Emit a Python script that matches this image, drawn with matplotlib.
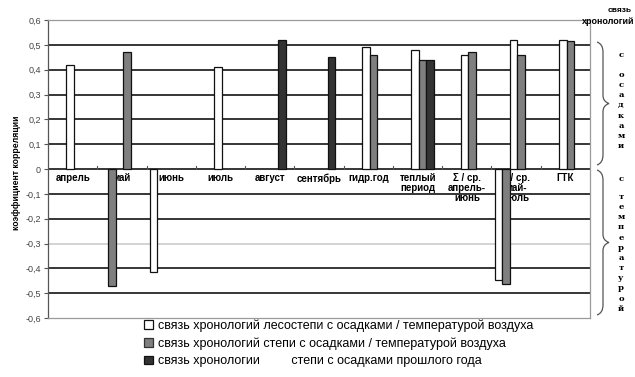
import numpy as np
import matplotlib
matplotlib.use("Agg")
import matplotlib.pyplot as plt
from matplotlib.patches import Patch, PathPatch
from matplotlib.path import Path

plt.rcParams['font.family'] = ['Liberation Sans', 'DejaVu Sans']

categories = ["апрель", "май", "июнь", "июль", "август", "сентябрь", "гидр.год",
              "теплый\nпериод", "Σ / ср.\nапрель-\nиюнь", "Σ / ср.\nмай-\nиюль", "ГТК"]
nan = np.nan
# temperature correlations (negative bars)
temp_forest = [nan, nan, -0.415, nan, nan, nan, nan, nan, nan, -0.445, nan]
temp_steppe = [nan, -0.47, nan, nan, nan, nan, nan, nan, nan, -0.465, nan]
# precipitation correlations
prec_forest = [0.42, nan, nan, 0.41, nan, nan, 0.49, 0.48, 0.46, 0.52, 0.52]
prec_steppe = [nan, 0.47, nan, nan, nan, nan, 0.46, 0.44, 0.47, 0.46, 0.515]
prec_prev   = [nan, nan, nan, nan, 0.52, 0.45, nan, 0.44, nan, nan, nan]

yticks = [0.6, 0.5, 0.4, 0.3, 0.2, 0.1, 0, -0.1, -0.2, -0.3, -0.4, -0.5, -0.6]
ytick_labels = ["0,6", "0,5", "0,4", "0,3", "0,2", "0,1", "0", "-0,1", "-0,2", "-0,3", "-0,4", "-0,5", "-0,6"]
legend_labels = ["связь хронологий лесостепи с осадками / температурой воздуха",
                 "связь хронологий степи с осадками / температурой воздуха",
                 "связь хронологии         степи с осадками прошлого года"]

W, H = 635, 377
fig = plt.figure(figsize=(W / 100, H / 100), dpi=100)
ax = fig.add_axes([48 / W, 1 - 318 / H, (590 - 48) / W, (318 - 20) / H])

x = np.arange(len(categories))
w = 0.152
white, grey, dark = "#ffffff", "#7f7f7f", "#333333"
series = [(temp_forest, white), (temp_steppe, grey), (prec_forest, white),
          (prec_steppe, grey), (prec_prev, dark)]
for i, (vals, col) in enumerate(series):
    off = (i - 2) * w - 0.05
    ax.bar(x + off, vals, width=w, color=col, edgecolor="#111111", linewidth=0.9, zorder=3)

ax.set_xlim(-0.5, len(categories) - 0.5)
ax.set_ylim(-0.6, 0.6)
for v in yticks:
    if abs(abs(v) - 0.6) < 1e-9:
        continue
    col = "#c8c8c8" if abs(v + 0.3) < 1e-9 else "#000000"
    ax.axhline(v, color=col, linewidth=1.1, zorder=1)

ax.set_yticks(yticks)
ax.set_yticklabels(ytick_labels, fontsize=6.5, color="#444444")
ax.tick_params(axis='y', length=3, width=0.8, color="#555555", pad=2)
ax.set_xticks(np.arange(len(categories) + 1) - 0.5)
ax.set_xticklabels([])
ax.tick_params(axis='x', length=0)
for s in ["top", "right", "bottom"]:
    ax.spines[s].set_color("#9a9a9a")
    ax.spines[s].set_linewidth(0.9)
ax.spines["left"].set_color("#555555")
ax.spines["left"].set_linewidth(0.9)

# small tick marks on zero line between categories
for b in np.arange(1, len(categories)):
    ax.plot([b - 0.5, b - 0.5], [0, 0.012], color="#555555", lw=0.8, zorder=1.5)

for xi, lab in zip(x, categories):
    ax.text(xi, -0.018, lab, ha="center", va="top", fontsize=7, fontweight="bold",
            linespacing=1.0, zorder=2)

fig.text(17 / W, 1 - 173 / H, "коэффициент корреляции", rotation=90, ha="center",
         va="center", fontsize=6.2, fontweight="bold")

fig.text(632 / W, 1 - 10 / H, "связь", ha="right", va="center", fontsize=6, fontweight="bold")
fig.text(634 / W, 1 - 22 / H, "хронологий", ha="right", va="center", fontsize=6.5, fontweight="bold")

def vtext(word, y_first, y_rest, xc=621):
    fig.text(xc / W, 1 - y_first / H, word[0], ha="center", va="center",
             fontsize=6, fontweight="bold", family="DejaVu Serif")
    rest = "\n".join(word[1:])
    fig.text(xc / W, 1 - y_rest / H, rest, ha="center", va="top",
             fontsize=6, fontweight="bold", linespacing=1.36, family="DejaVu Serif")

vtext("сосадками", 55, 71)
vtext("стемпературой", 179, 193)

def brace(y0, y1, x0=597, x1=603, xt=609):
    ym = (y0 + y1) / 2
    pts = [(x0, y0), (x1, y0 + 2), (x1, y0 + 10),
           (x1, ym - 8), (x1, ym - 2), (xt, ym),
           (x1, ym + 2), (x1, ym + 8),
           (x1, y1 - 10), (x1, y1 - 2), (x0, y1)]
    pts = [(px / W, 1 - py / H) for px, py in pts]
    codes = [Path.MOVETO, Path.CURVE3, Path.CURVE3, Path.LINETO, Path.CURVE3, Path.CURVE3,
             Path.CURVE3, Path.CURVE3, Path.LINETO, Path.CURVE3, Path.CURVE3]
    p = PathPatch(Path(pts, codes), transform=fig.transFigure, fill=False,
                  edgecolor="#555555", lw=0.9)
    fig.patches.append(p)

brace(42, 165)
brace(170, 315)

handles = [Patch(facecolor=white, edgecolor="#111111", lw=0.9),
           Patch(facecolor=grey, edgecolor="#333333", lw=0.9),
           Patch(facecolor=dark, edgecolor="#111111", lw=0.9)]
fig.legend(handles, legend_labels, loc="upper left", bbox_to_anchor=(144 / W, 1 - 319 / H),
           frameon=False, fontsize=9, handlelength=0.7, handleheight=0.7,
           handletextpad=0.4, labelspacing=0.45, borderpad=0, borderaxespad=0)

fig.savefig("out.png", dpi=100)
